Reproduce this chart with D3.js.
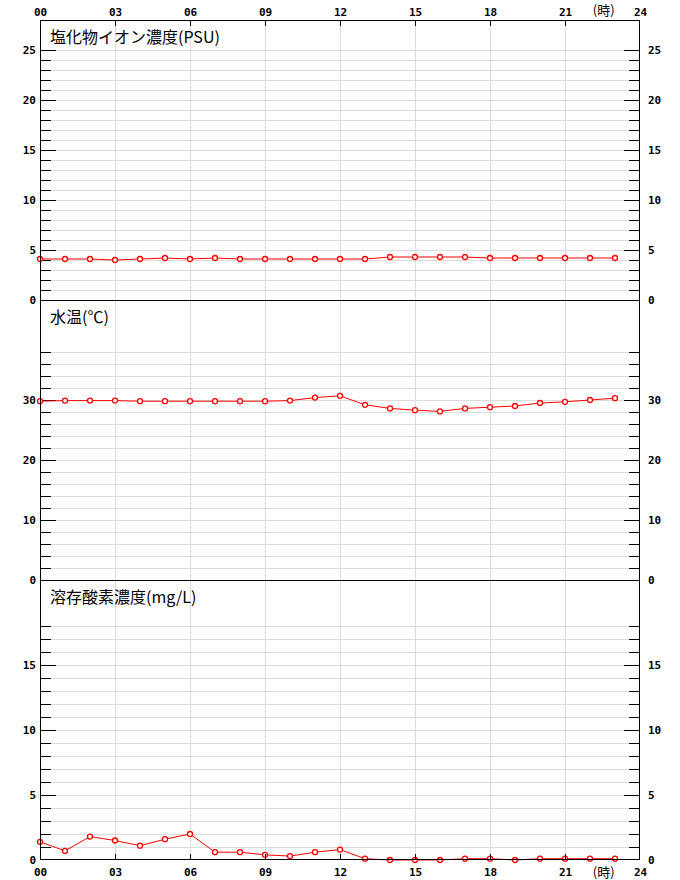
<!DOCTYPE html>
<html><head><meta charset="utf-8">
<script src="https://cdn.jsdelivr.net/npm/d3@7"></script>
<style>body{margin:0;background:#fff}svg{display:block}</style>
</head><body>
<script>
// ---- data ----
const hours = d3.range(0, 24);
const hourTicks = [0, 3, 6, 9, 12, 15, 18, 21, 24];
const hourLabels = ["00", "03", "06", "09", "12", "15", "18", "21", "24"];
const unitLabel = "(時)";

const salinityTitle = "塩化物イオン濃度(PSU)";
const salinity = [4.1,4.1,4.1,4.0,4.1,4.2,4.1,4.2,4.1,4.1,4.1,4.1,4.1,4.1,4.3,4.3,4.3,4.3,4.2,4.2,4.2,4.2,4.2,4.2];
const salinityLabels = [0, 5, 10, 15, 20, 25];

const tempTitle = "水温(℃)";
const temperature = [29.8,29.9,29.9,29.9,29.8,29.8,29.8,29.8,29.8,29.8,29.9,30.4,30.7,29.2,28.6,28.3,28.1,28.6,28.8,29.0,29.5,29.7,30.0,30.3];
const tempLabels = [0, 10, 20, 30];

const doTitle = "溶存酸素濃度(mg/L)";
const dissolvedO2 = [1.4,0.7,1.8,1.5,1.1,1.6,2.0,0.6,0.6,0.4,0.3,0.6,0.8,0.1,0.0,0.0,0.0,0.1,0.1,0.0,0.1,0.1,0.1,0.1];
const doLabels = [0, 5, 10, 15];

// ---- layout ----
const W = 680, H = 880;
const L = 40, R = 640, T = 20, B = 860, PH = 280;
const panels = [
  {title: salinityTitle, values: salinity, labels: salinityLabels, max: 28, tickMax: 25, step: 1, major: 5},
  {title: tempTitle, values: temperature, labels: tempLabels, max: 280/6, tickMax: 38, step: 2, major: 10},
  {title: doTitle, values: dissolvedO2, labels: doLabels, max: 280/13, tickMax: 18, step: 1, major: 5}
];

const svg = d3.select("body").append("svg").attr("width", W).attr("height", H);
const x = d3.scaleLinear().domain([0, 24]).range([L, R]);
const monoFont = "'DejaVu Sans Mono', monospace";
const cjkFont = "'Noto Sans CJK JP', sans-serif";
const grid = "#dcdcdc";

// vertical gridlines
svg.append("g").selectAll("line").data(hourTicks.filter(h => h > 0 && h < 24)).join("line")
  .attr("x1", d => x(d) + 0.5).attr("x2", d => x(d) + 0.5)
  .attr("y1", T).attr("y2", B).attr("stroke", grid).attr("stroke-width", 1);

panels.forEach((p, i) => {
  const top = T + i * PH, bot = top + PH;
  const y = d3.scaleLinear().domain([0, p.max]).range([bot, top]);
  const g = svg.append("g");
  const tickVals = d3.range(p.step, p.tickMax + 0.001, p.step);
  // horizontal gridlines
  g.append("g").selectAll("line").data(tickVals).join("line")
    .attr("x1", L).attr("x2", R)
    .attr("y1", d => Math.round(y(d)) + 0.5).attr("y2", d => Math.round(y(d)) + 0.5)
    .attr("stroke", grid);
  // ticks left and right
  const tk = g.append("g").attr("stroke", "#000");
  tk.selectAll("line.l").data(tickVals).join("line").attr("class", "l")
    .attr("x1", L).attr("x2", d => L + (d % p.major === 0 ? 16 : 11))
    .attr("y1", d => Math.round(y(d)) + 0.5).attr("y2", d => Math.round(y(d)) + 0.5);
  tk.selectAll("line.r").data(tickVals).join("line").attr("class", "r")
    .attr("x1", R).attr("x2", d => R - (d % p.major === 0 ? 16 : 11))
    .attr("y1", d => Math.round(y(d)) + 0.5).attr("y2", d => Math.round(y(d)) + 0.5);
  // labels
  const la = d3.axisLeft(y).tickValues(p.labels).tickSize(0).tickPadding(4);
  const ra = d3.axisRight(y).tickValues(p.labels).tickSize(0).tickPadding(8);
  [[la, L], [ra, R]].forEach(([ax, xx]) => {
    const a = g.append("g").attr("transform", `translate(${xx},0)`).call(ax);
    a.select(".domain").remove();
    a.selectAll("text").attr("font-family", monoFont).attr("font-weight", "bold")
      .attr("font-size", 11).attr("fill", "#000");
  });
  // title
  g.append("text").attr("x", L + 10).attr("y", top + 23).text(p.title)
    .attr("font-family", cjkFont).attr("font-size", 16).attr("fill", "#000");
  // line
  const line = d3.line().x((d, j) => x(hours[j])).y(d => y(d));
  g.append("path").datum(p.values).attr("d", line)
    .attr("fill", "none").attr("stroke", "#ff0000").attr("stroke-width", 1);
  g.selectAll("circle").data(p.values).join("circle")
    .attr("cx", (d, j) => x(hours[j])).attr("cy", d => y(d)).attr("r", 2.5)
    .attr("fill", "#fff").attr("stroke", "#ff0000").attr("stroke-width", 1.3);
  // separator / frame
  if (i > 0) svg.append("line").attr("x1", L).attr("x2", R)
    .attr("y1", top + 0.5).attr("y2", top + 0.5).attr("stroke", "#000");
});

svg.append("rect").attr("x", L + 0.5).attr("y", T + 0.5).attr("width", R - L - 1).attr("height", B - T - 1)
  .attr("fill", "none").attr("stroke", "#000");

// x axes
const fmt = d => hourLabels[hourTicks.indexOf(d)];
const topAx = svg.append("g").attr("transform", `translate(0,${T})`)
  .call(d3.axisTop(x).tickValues(hourTicks).tickFormat(fmt).tickSizeInner(-6).tickSizeOuter(0).tickPadding(4));
const botAx = svg.append("g").attr("transform", `translate(0,${B})`)
  .call(d3.axisBottom(x).tickValues(hourTicks).tickFormat(fmt).tickSizeInner(-6).tickSizeOuter(0).tickPadding(8));
[topAx, botAx].forEach(a => {
  a.select(".domain").remove();
  a.selectAll("line").attr("stroke", "#000").filter(d => d === 0 || d === 24).remove();
  a.selectAll("text").attr("font-family", monoFont).attr("font-weight", "bold").attr("font-size", 11).attr("fill", "#000");
});
svg.append("text").attr("x", x(22.55)).attr("y", 15).attr("text-anchor", "middle").text(unitLabel)
  .attr("font-family", cjkFont).attr("font-size", 13);
svg.append("text").attr("x", x(22.55)).attr("y", 877).attr("text-anchor", "middle").text(unitLabel)
  .attr("font-family", cjkFont).attr("font-size", 13);
</script>
</body></html>
